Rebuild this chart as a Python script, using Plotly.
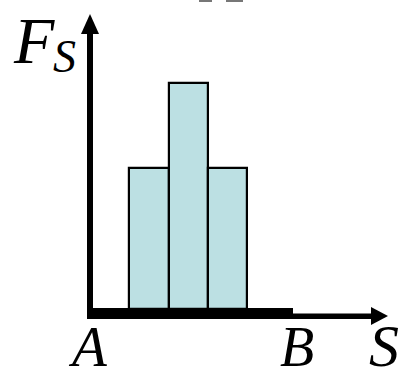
import plotly.graph_objects as go

# Bar data: three adjacent strips of the force profile between A and B
bar_pos = [1.5, 2.5, 3.5]
bar_force = [5, 8, 5]

# Axis labels and markers along the S axis
label_a = "A"
label_b = "B"
label_s = "S"
label_f = "F"
label_f_sub = "S"

W, H = 409, 378
# pixel <-> data mapping (plot area spans the whole page)
PX_X0, UX = 90.0, 39.33   # pixel of x=0, pixels per x unit
PX_Y0, UY = 309.0, 28.2   # pixel of y=0, pixels per y unit


def dx(px):
    return (px - PX_X0) / UX


def dy(py):
    return (PX_Y0 - py) / UY


fig = go.Figure()
fig.add_trace(go.Bar(
    x=bar_pos, y=bar_force, width=1,
    marker=dict(color="#bce0e3", line=dict(color="black", width=2.2)),
    hoverinfo="skip",
))

shapes = []
# thick base segment between A and B
shapes.append(dict(type="rect", xref="x", yref="y", x0=dx(87), x1=dx(293),
                   y0=dy(319), y1=dy(308), fillcolor="black", line=dict(width=0),
                   layer="below"))
# vertical axis shaft
shapes.append(dict(type="rect", xref="x", yref="y", x0=dx(87), x1=dx(93),
                   y0=dy(319), y1=dy(32), fillcolor="black", line=dict(width=0),
                   layer="below"))
# vertical axis arrowhead
shapes.append(dict(type="path", xref="x", yref="y",
                   path=f"M {dx(81)} {dy(34)} L {dx(90)} {dy(14)} L {dx(99)} {dy(34)} Z",
                   fillcolor="black", line=dict(width=0)))
# horizontal axis shaft
shapes.append(dict(type="rect", xref="x", yref="y", x0=dx(87), x1=dx(373),
                   y0=dy(319), y1=dy(313.5), fillcolor="black", line=dict(width=0),
                   layer="below"))
# horizontal axis arrowhead
shapes.append(dict(type="path", xref="x", yref="y",
                   path=f"M {dx(371)} {dy(307)} L {dx(388)} {dy(316)} L {dx(371)} {dy(325)} Z",
                   fillcolor="black", line=dict(width=0)))
# faint strokes at the top edge
for a, b in [(199, 212), (226, 243)]:
    shapes.append(dict(type="rect", xref="x", yref="y", x0=dx(a), x1=dx(b),
                       y0=dy(2), y1=dy(0), fillcolor="#777777", line=dict(width=0)))

serif = "Times New Roman, Liberation Serif, DejaVu Serif, serif"


def label(text, px, py, size):
    return dict(text=text, x=px / W, y=1 - py / H, xref="paper", yref="paper",
                showarrow=False, xanchor="center", yanchor="middle",
                font=dict(family=serif, size=size, color="black", style="italic"))


annotations = [
    label(label_f, 34, 40, 66),
    label(label_f_sub, 64, 56, 46),
    label(label_a, 88, 346, 57),
    label(label_b, 297, 347, 56),
    label(label_s, 384, 346, 60),
]

fig.update_layout(
    width=W, height=H,
    margin=dict(l=0, r=0, t=0, b=0),
    paper_bgcolor="white", plot_bgcolor="white",
    showlegend=False, bargap=0,
    xaxis=dict(range=[dx(0), dx(W)], visible=False, fixedrange=True),
    yaxis=dict(range=[dy(H), dy(0)], visible=False, fixedrange=True),
    shapes=shapes, annotations=annotations,
)

fig.write_html("out.html", config={"displayModeBar": False})
